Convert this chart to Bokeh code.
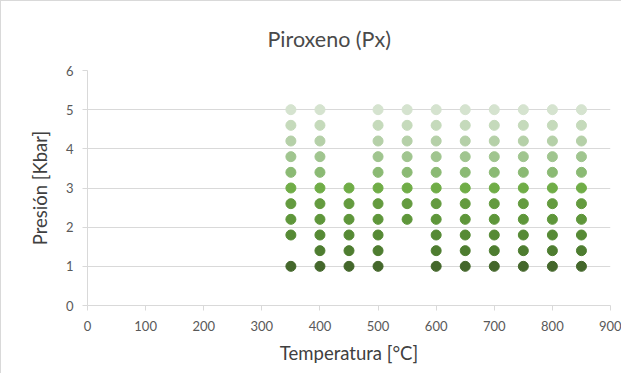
from bokeh.plotting import figure
from bokeh.models import ColumnDataSource, FixedTicker, Range1d
from bokeh.embed import file_html
from bokeh.resources import INLINE

# Pressure series (Kbar) and the temperatures (°C) at which each occurs
pressures = [1.0, 1.4, 1.8, 2.2, 2.6, 3.0, 3.4, 3.8, 4.2, 4.6, 5.0]
temps_by_pressure = {
    1.0: [350, 400, 450, 500, 600, 650, 700, 750, 800, 850],
    1.4: [400, 450, 500, 600, 650, 700, 750, 800, 850],
    1.8: [350, 400, 450, 500, 600, 650, 700, 750, 800, 850],
    2.2: [350, 400, 450, 500, 550, 600, 650, 700, 750, 800, 850],
    2.6: [350, 400, 450, 500, 550, 600, 650, 700, 750, 800, 850],
    3.0: [350, 400, 450, 500, 550, 600, 650, 700, 750, 800, 850],
    3.4: [350, 400, 500, 550, 600, 650, 700, 750, 800, 850],
    3.8: [350, 400, 500, 550, 600, 650, 700, 750, 800, 850],
    4.2: [350, 400, 500, 550, 600, 650, 700, 750, 800, 850],
    4.6: [350, 400, 500, 550, 600, 650, 700, 750, 800, 850],
    5.0: [350, 400, 500, 550, 600, 650, 700, 750, 800, 850],
}
colors = ["#44672b", "#4e7d30", "#568a35", "#5e963a", "#649b3f", "#70ad47",
          "#8bba74", "#a0c58f", "#b5d0a8", "#c5dabb", "#d5e3cf"]
x_ticks = [0, 100, 200, 300, 400, 500, 600, 700, 800, 900]
y_ticks = [0, 1, 2, 3, 4, 5, 6]

FONT = "Lato"
GRAY = "#595959"

p = figure(width=621, height=373, output_backend="svg", toolbar_location=None,
           x_range=Range1d(0, 900), y_range=Range1d(0, 6),
           title="Piroxeno (Px)")
p.min_border_left = 86
p.min_border_right = 12
p.min_border_top = 69
p.min_border_bottom = 69
p.outline_line_color = None
p.background_fill_color = "white"
p.border_fill_color = "white"
p.styles = {"border-left": "1px solid #d9d9d9", "border-top": "1px solid #d9d9d9"}

p.title.text_font = FONT
p.title.text_font_size = "21.5px"
p.title.text_font_style = "normal"
p.title.text_color = "#4a4a4a"
p.title.align = "left"
p.title.offset = 180
p.title.standoff = 37

for pr, col in zip(pressures, colors):
    xs = temps_by_pressure[pr]
    src = ColumnDataSource(dict(x=xs, y=[pr] * len(xs)))
    p.scatter("x", "y", source=src, size=10, fill_color=col, line_color=col)

p.xaxis.ticker = FixedTicker(ticks=x_ticks)
p.yaxis.ticker = FixedTicker(ticks=y_ticks)
p.xgrid.grid_line_color = None
p.ygrid.grid_line_color = "#d9d9d9"
p.ygrid.grid_line_width = 1

for ax in (p.xaxis[0], p.yaxis[0]):
    ax.axis_line_color = "#d9d9d9"
    ax.major_tick_line_color = "#d9d9d9"
    ax.major_tick_out = 5
    ax.major_tick_in = 0
    ax.minor_tick_line_color = None
    ax.major_label_text_font = FONT
    ax.major_label_text_font_size = "13px"
    ax.major_label_text_color = GRAY
    ax.axis_label_text_font = FONT
    ax.axis_label_text_font_size = "18.5px"
    ax.axis_label_text_font_style = "normal"
    ax.axis_label_text_color = "#404040"

p.xaxis.axis_label = "Temperatura [°C]"
p.yaxis.axis_label = "Presión [Kbar]"
p.xaxis.major_label_standoff = 10
p.yaxis.major_label_standoff = 9
p.xaxis.axis_label_standoff = 8
p.yaxis.axis_label_standoff = 12

open("out.html", "w").write(file_html(p, INLINE))
